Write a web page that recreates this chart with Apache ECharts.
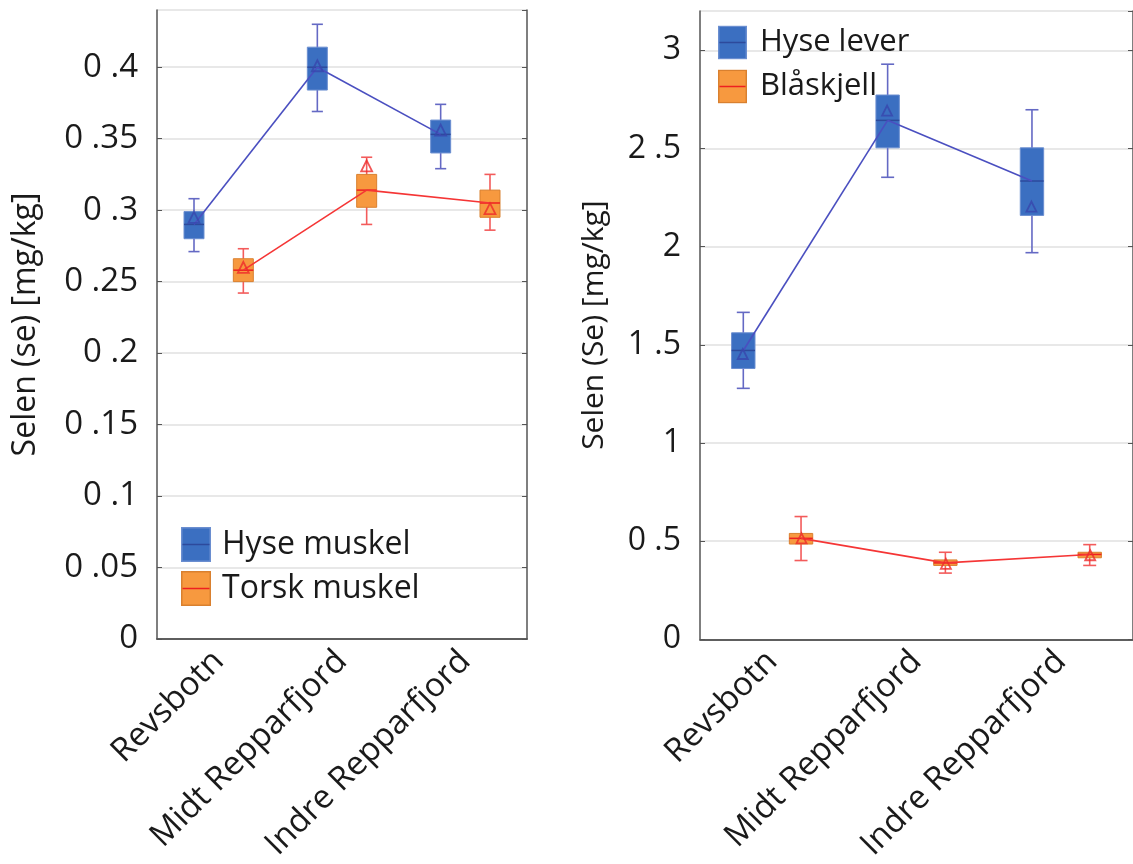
<!DOCTYPE html>
<html>
<head>
<meta charset="utf-8">
<script src="https://cdn.jsdelivr.net/npm/echarts@6/dist/echarts.min.js"></script>
<style>
  html, body { margin: 0; padding: 0; background: #ffffff; }
  #chart { width: 1133px; height: 864px; }
</style>
</head>
<body>
<div id="chart"></div>
<script>
// ---------- DATA ----------
const categories = ['Revsbotn', 'Midt Repparfjord', 'Indre Repparfjord'];

// [lower whisker, Q1, median, Q3, upper whisker]
const hyseMuskel = [
  [0.271, 0.280, 0.290, 0.299, 0.308],
  [0.369, 0.384, 0.400, 0.414, 0.430],
  [0.329, 0.340, 0.353, 0.363, 0.374]
];
const hyseMuskelMean = [0.295, 0.401, 0.356];

const torskMuskel = [
  [0.242, 0.250, 0.258, 0.266, 0.273],
  [0.290, 0.302, 0.314, 0.325, 0.337],
  [0.286, 0.295, 0.305, 0.314, 0.325]
];
const torskMuskelMean = [0.260, 0.331, 0.301];

const hyseLever = [
  [1.278, 1.379, 1.471, 1.561, 1.665],
  [2.353, 2.503, 2.643, 2.772, 2.929],
  [1.969, 2.159, 2.334, 2.503, 2.697]
];
const hyseLeverMean = [1.453, 2.693, 2.204];

const blaskjell = [
  [0.401, 0.485, 0.514, 0.539, 0.625],
  [0.337, 0.376, 0.389, 0.404, 0.443],
  [0.376, 0.415, 0.432, 0.443, 0.482]
];
const blaskjellMean = [0.514, 0.384, 0.428];

const leftTicks = { min: 0, max: 0.44, interval: 0.05 };
const rightTicks = { min: 0, max: 3.2, interval: 0.5 };

// ---------- STYLE ----------
const FONT = 'Open Sans';
const TEXT = '#1a1a1a';
const AXIS = '#555555';
const GRIDLINE = '#e0e0e0';

const BLUE = {
  fill: '#3b6fc1', stroke: '#6a8ed0', whisker: '#6469c4',
  median: '#2d4a9c', link: '#4a4fc0', mean: '#3846ad'
};
const ORANGE = {
  fill: '#f7993f', stroke: '#d9802f', whisker: '#f35b5b',
  median: '#ee2020', link: '#f53535', mean: '#ee2a2a'
};

const gridL = { left: 157, top: 10, width: 370, height: 629 };
const gridR = { left: 700, top: 11, width: 441, height: 632 };

const OFFSET_FRAC = 0.2;

function legendIcon(c) {
  const svg = '<svg xmlns="http://www.w3.org/2000/svg" width="30" height="35">' +
    '<rect x="0.75" y="0.75" width="28.5" height="33.5" fill="' + c.fill + '" stroke="' + c.stroke + '" stroke-width="1.5"/>' +
    '<line x1="1.5" y1="17.5" x2="28.5" y2="17.5" stroke="' + c.median + '" stroke-width="1.5"/></svg>';
  return 'image://data:image/svg+xml;charset=utf-8,' + encodeURIComponent(svg);
}

function makeRender(stats, c, side) {
  return function (params, api) {
    const i = api.value(0);
    const band = api.size([1, 0])[0];
    const off = side * band * OFFSET_FRAC;
    const bw = band * 0.162;
    const cap = band * 0.09;
    const cx = api.coord([i, 0])[0] + off;
    const y = function (v) { return api.coord([i, v])[1]; };
    const lo = y(api.value(1)), q1 = y(api.value(2)), med = y(api.value(3)),
          q3 = y(api.value(4)), hi = y(api.value(5));
    const children = [
      { type: 'line', shape: { x1: cx, y1: hi, x2: cx, y2: lo },
        style: { stroke: c.whisker, lineWidth: 1.6 } },
      { type: 'line', shape: { x1: cx - cap / 2, y1: hi, x2: cx + cap / 2, y2: hi },
        style: { stroke: c.whisker, lineWidth: 1.6 } },
      { type: 'line', shape: { x1: cx - cap / 2, y1: lo, x2: cx + cap / 2, y2: lo },
        style: { stroke: c.whisker, lineWidth: 1.6 } },
      { type: 'rect', shape: { x: cx - bw / 2, y: q3, width: bw, height: q1 - q3 },
        style: { fill: c.fill, stroke: c.stroke, lineWidth: 1 } },
      { type: 'line', shape: { x1: cx - bw / 2, y1: med, x2: cx + bw / 2, y2: med },
        style: { stroke: c.median, lineWidth: 1.5 } }
    ];
    if (params.dataIndex > 0) {
      const p = api.coord([i - 1, stats[params.dataIndex - 1][2]]);
      children.push({ type: 'line',
        shape: { x1: p[0] + off, y1: p[1], x2: cx, y2: med },
        style: { stroke: c.link, lineWidth: 1.6 } });
    }
    return { type: 'group', children: children };
  };
}

function boxSeries(name, stats, c, side, gi) {
  return {
    name: name, type: 'custom', xAxisIndex: gi * 2, yAxisIndex: gi * 2,
    data: stats.map(function (s, i) { return [i].concat(s); }),
    encode: { x: 0, y: [1, 2, 3, 4, 5] },
    itemStyle: { color: c.fill },
    renderItem: makeRender(stats, c, side),
    silent: true, z: 3
  };
}

function meanSeries(name, means, c, side, gi, grid, size) {
  const off = side * grid.width / categories.length * OFFSET_FRAC;
  return {
    name: name, type: 'scatter', xAxisIndex: gi * 2, yAxisIndex: gi * 2,
    data: means.map(function (v, i) { return [i, v]; }),
    symbol: 'triangle', symbolSize: size, symbolOffset: [off, 0],
    itemStyle: { color: 'rgba(0,0,0,0)', borderColor: c.mean, borderWidth: 1.8 },
    silent: true, z: 5
  };
}

function yFmt(v) { return String(v).replace('.', ' .'); }

function xAxes(gi, fontSize) {
  return [
    { gridIndex: gi, type: 'category', data: categories, position: 'bottom',
      axisLine: { lineStyle: { color: AXIS, width: 1.5 } },
      axisTick: { inside: true, alignWithLabel: true, length: 5, lineStyle: { color: AXIS } },
      axisLabel: { rotate: 45, margin: 17, fontSize: fontSize, color: TEXT, fontFamily: FONT },
      splitLine: { show: false } },
    { gridIndex: gi, type: 'category', data: categories, position: 'top',
      axisLine: { lineStyle: { color: AXIS, width: 1.5 } },
      axisTick: { inside: true, alignWithLabel: true, length: 5, lineStyle: { color: AXIS } },
      axisLabel: { show: false }, splitLine: { show: false } }
  ];
}

function yAxes(gi, t, name, nameGap, fontSize, nameSize, margin) {
  return [
    { gridIndex: gi, type: 'value', position: 'left', min: t.min, max: t.max, interval: t.interval,
      name: name, nameLocation: 'middle', nameGap: nameGap,
      nameTextStyle: { fontSize: nameSize, color: TEXT, fontFamily: FONT },
      axisLine: { show: true, lineStyle: { color: AXIS, width: 1.5 } },
      axisTick: { show: true, inside: true, length: 5, lineStyle: { color: AXIS } },
      axisLabel: { fontSize: fontSize, color: TEXT, fontFamily: FONT, margin: margin,
                   showMaxLabel: false, formatter: yFmt },
      splitLine: { show: true, lineStyle: { color: GRIDLINE, width: 1.5 } } },
    { gridIndex: gi, type: 'value', position: 'right', min: t.min, max: t.max, interval: t.interval,
      axisLine: { show: true, lineStyle: { color: AXIS, width: 1.5 } },
      axisTick: { show: true, inside: true, length: 5, lineStyle: { color: AXIS } },
      axisLabel: { show: false }, splitLine: { show: false } }
  ];
}

const chart = echarts.init(document.getElementById('chart'), null, { renderer: 'canvas' });
chart.setOption({
  animation: false,
  backgroundColor: '#ffffff',
  textStyle: { fontFamily: FONT },
  grid: [gridL, gridR],
  xAxis: xAxes(0, 33).concat(xAxes(1, 33)),
  yAxis: yAxes(0, leftTicks, 'Selen (se) [mg/kg]', 115, 33, 32, 19)
    .concat(yAxes(1, rightTicks, 'Selen (Se) [mg/kg]', 91, 32, 30, 19)),
  legend: [
    { orient: 'vertical', left: 176, top: 522, itemWidth: 30, itemHeight: 35, itemGap: 9,
      selectedMode: false,
      textStyle: { fontSize: 32, color: TEXT, fontFamily: FONT, padding: [0, 0, 0, 6] },
      data: [{ name: 'Hyse muskel', icon: legendIcon(BLUE) },
             { name: 'Torsk muskel', icon: legendIcon(ORANGE) }] },
    { orient: 'vertical', left: 713, top: 20, itemWidth: 29, itemHeight: 35, itemGap: 9,
      selectedMode: false,
      textStyle: { fontSize: 31, color: TEXT, fontFamily: FONT, padding: [0, 0, 0, 8] },
      data: [{ name: 'Hyse lever', icon: legendIcon(BLUE) },
             { name: 'Blåskjell', icon: legendIcon(ORANGE) }] }
  ],
  series: [
    boxSeries('Hyse muskel', hyseMuskel, BLUE, -1, 0),
    boxSeries('Torsk muskel', torskMuskel, ORANGE, 1, 0),
    meanSeries('Hyse muskel', hyseMuskelMean, BLUE, -1, 0, gridL, 11),
    meanSeries('Torsk muskel', torskMuskelMean, ORANGE, 1, 0, gridL, 11),
    boxSeries('Hyse lever', hyseLever, BLUE, -1, 1),
    boxSeries('Blåskjell', blaskjell, ORANGE, 1, 1),
    meanSeries('Hyse lever', hyseLeverMean, BLUE, -1, 1, gridR, 10),
    meanSeries('Blåskjell', blaskjellMean, ORANGE, 1, 1, gridR, 10)
  ]
});
</script>
</body>
</html>
